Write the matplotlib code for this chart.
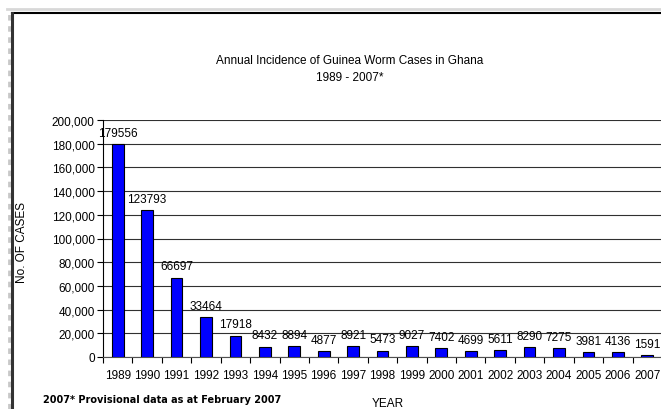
import numpy as np
import matplotlib
matplotlib.use('Agg')
import matplotlib.pyplot as plt
from matplotlib.lines import Line2D
from matplotlib.ticker import FuncFormatter

plt.rcParams['font.family'] = ['Liberation Sans', 'DejaVu Sans']

years = ['1989', '1990', '1991', '1992', '1993', '1994', '1995', '1996', '1997', '1998',
         '1999', '2000', '2001', '2002', '2003', '2004', '2005', '2006', '2007']
cases = [179556, 123793, 66697, 33464, 17918, 8432, 8894, 4877, 8921, 5473,
         9027, 7402, 4699, 5611, 8290, 7275, 3981, 4136, 1591]

fig = plt.figure(figsize=(6.61, 4.10), dpi=100)

# outer frame of the embedded chart
fig.add_artist(Line2D([7/661, 1], [1 - 10/410, 1 - 10/410], color='#d8d8d8', lw=2))
fig.add_artist(Line2D([8.5/661, 8.5/661], [0, 1 - 12/410], color='#c8c8c8', lw=2,
                      linestyle=(0, (2, 2))))
fig.add_artist(Line2D([11.5/661, 1], [1 - 14/410, 1 - 14/410], color='black', lw=1.5))
fig.add_artist(Line2D([11.5/661, 11.5/661], [0, 1 - 14/410], color='#333333', lw=2.2))

ax = fig.add_axes([103/661, 1 - 358/410, 559/661, 237/410])
x = np.arange(len(years))
bars = ax.bar(x, cases, width=0.4, color='#0000ff', edgecolor='black', linewidth=0.8, zorder=3)

for xi, v in zip(x, cases):
    ax.annotate(str(v), (xi, v), xytext=(0, 4), textcoords='offset points',
                ha='center', va='bottom', fontsize=8.5)

ax.set_xlim(-0.5, len(years) - 0.5)
ax.set_ylim(0, 200000)
ax.set_yticks(np.arange(0, 200001, 20000))
ax.yaxis.set_major_formatter(FuncFormatter(lambda v, p: f'{int(v):,}'))
ax.set_xticks(x)
ax.set_xticklabels(years)
ax.set_xticks(np.arange(-0.5, len(years), 1), minor=True)
ax.tick_params(axis='x', which='major', length=0, pad=9, labelsize=8.5)
ax.tick_params(axis='x', which='minor', length=4, width=0.8, direction='out')
ax.tick_params(axis='y', length=4, width=0.8, direction='out', labelsize=8.5, pad=2)

ax.grid(axis='y', color='#303030', lw=0.8, zorder=0)
for s in ['top', 'right']:
    ax.spines[s].set_visible(False)
ax.spines['left'].set_linewidth(0.8)
ax.spines['bottom'].set_linewidth(0.8)
ax.spines['bottom'].set_color('#505050')

fig.text(350/661, 1 - 61/410, 'Annual Incidence of Guinea Worm Cases in Ghana',
         ha='center', va='center', fontsize=8.5)
fig.text(350/661, 1 - 78/410, '1989 - 2007*', ha='center', va='center', fontsize=8.5)
fig.text(22/661, 1 - 243/410, 'No. OF CASES', rotation=90, ha='center', va='center', fontsize=8.5)
fig.text(388/661, 1 - 404/410, 'YEAR', ha='center', va='center', fontsize=8.5)
fig.text(43/661, 1 - 400/410, '2007* Provisional data as at February 2007',
         ha='left', va='center', fontsize=7, fontweight='bold', family='DejaVu Sans')

fig.savefig('out.png', dpi=100)
